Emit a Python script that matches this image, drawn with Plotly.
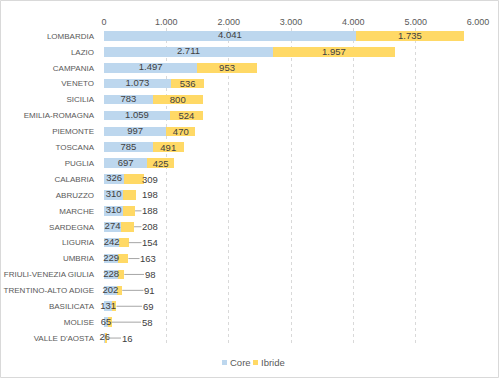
import plotly.graph_objects as go

regions = ["LOMBARDIA", "LAZIO", "CAMPANIA", "VENETO", "SICILIA", "EMILIA-ROMAGNA",
           "PIEMONTE", "TOSCANA", "PUGLIA", "CALABRIA", "ABRUZZO", "MARCHE", "SARDEGNA",
           "LIGURIA", "UMBRIA", "FRIULI-VENEZIA GIULIA", "TRENTINO-ALTO ADIGE",
           "BASILICATA", "MOLISE", "VALLE D'AOSTA"]
core = [4041, 2711, 1497, 1073, 783, 1059, 997, 785, 697, 326, 310, 310, 274, 242, 229,
        228, 202, 131, 65, 26]
ibride = [1735, 1957, 953, 536, 800, 524, 470, 491, 425, 309, 198, 188, 208, 154, 163,
          98, 91, 69, 58, 16]
x_ticks = [0, 1000, 2000, 3000, 4000, 5000, 6000]
series_names = ["Core", "Ibride"]

# label placement style for small Ibride values (shown outside with leader lines)
n_inside = 9
outside_label_x = [738, 738, 738, 738, 738, 706, 738, 730, 706, 690, 369]
leader = [False, False, True, True, True, True, True, True, True, True, True]

W, H = 500, 379
ML, MR, MT, MB = 104, 22, 28, 33
PW, PH = W - ML - MR, H - MT - MB

BLUE = "#BDD7EE"
GOLD = "#FFD966"
TXT = "#404040"
AX = "#595959"
FONT = "Liberation Sans"


def fmt(v):
    return f"{v:,}".replace(",", ".")


def px_x(p):  # pixel -> paper x
    return (p - ML) / PW


def px_y(p):  # pixel -> paper y
    return 1 - (p - MT) / PH


fig = go.Figure()
fig.add_trace(go.Bar(
    y=regions, x=core, orientation="h", name=series_names[0], showlegend=False,
    marker=dict(color=BLUE, line=dict(width=0)), hoverinfo="skip",
))
ib_text = [fmt(v) if i < n_inside else "" for i, v in enumerate(ibride)]
fig.add_trace(go.Bar(
    y=regions, x=ibride, orientation="h", name=series_names[1], showlegend=False,
    marker=dict(color=GOLD, line=dict(width=0)),
    text=ib_text, texttemplate="%{text}", textposition="inside",
    insidetextanchor="middle", constraintext="none", textangle=0,
    insidetextfont=dict(color=TXT, size=9.5, family=FONT),
    hoverinfo="skip",
))
# Core labels centred on the Core bars, drawn above the bars
fig.add_trace(go.Scatter(
    x=[v / 2 for v in core], y=regions, mode="text",
    text=[fmt(v) for v in core], textposition="middle center",
    textfont=dict(color=TXT, size=9.5, family=FONT),
    showlegend=False, hoverinfo="skip", cliponaxis=False,
))

annotations = []
for k, i in enumerate(range(n_inside, len(regions))):
    total = core[i] + ibride[i]
    lx = outside_label_x[k]
    txt = fmt(ibride[i])
    if leader[k]:
        annotations.append(dict(
            x=total, y=regions[i], ax=lx, ay=regions[i], axref="x", ayref="y",
            xref="x", yref="y", text=txt, showarrow=True, arrowhead=0,
            arrowwidth=1, arrowcolor="#A6A6A6", standoff=0, startstandoff=0,
            font=dict(color=TXT, size=9.5, family=FONT), borderpad=0,
        ))
    else:
        annotations.append(dict(
            x=lx, y=regions[i], xref="x", yref="y", text=txt, showarrow=False,
            font=dict(color=TXT, size=9.5, family=FONT),
        ))

shapes = [dict(
    type="rect", xref="paper", yref="paper",
    x0=px_x(0.5), x1=px_x(W - 1.5), y0=px_y(H - 1.5), y1=px_y(0.5),
    line=dict(color="#D9D9D9", width=1), fillcolor="rgba(0,0,0,0)", layer="below",
)]

# manual legend: small square swatch + label
legend_pos = [(222, 228), (253, 259)]
for (sx, tx), nm, col in zip(legend_pos, series_names, (BLUE, GOLD)):
    shapes.append(dict(type="rect", xref="paper", yref="paper",
                       x0=px_x(sx), x1=px_x(sx + 5), y0=px_y(365), y1=px_y(360),
                       line=dict(width=0), fillcolor=col))
    annotations.append(dict(x=px_x(tx), y=px_y(362.5), xref="paper", yref="paper",
                            xanchor="left", yanchor="middle", text=nm, showarrow=False,
                            font=dict(size=9.5, color=AX, family=FONT)))

fig.update_layout(
    width=W, height=H,
    margin=dict(l=ML, r=MR, t=MT, b=MB, pad=0, autoexpand=False),
    barmode="stack", bargap=0.4,
    separators=",.",
    paper_bgcolor="white", plot_bgcolor="white",
    font=dict(family=FONT, size=9, color=AX),
    showlegend=False,
    annotations=annotations,
    shapes=shapes,
)
fig.update_xaxes(
    range=[0, 6000], side="top", tickvals=x_ticks, tickformat=",d",
    showgrid=True, gridcolor="#D9D9D9", griddash="dot", gridwidth=1,
    zeroline=False, showline=False, ticks="", tickfont=dict(size=9, color=AX),
    fixedrange=True, automargin=False,
)
fig.update_yaxes(
    range=[len(regions) - 0.5, -0.5], showgrid=False, showline=False, ticks="",
    ticklabelstandoff=9, tickfont=dict(size=8, color=AX), fixedrange=True,
    automargin=False,
)

fig.write_html("out.html", config={"displayModeBar": False},
               post_script="document.body.style.margin='0';document.body.style.overflow='hidden';")
